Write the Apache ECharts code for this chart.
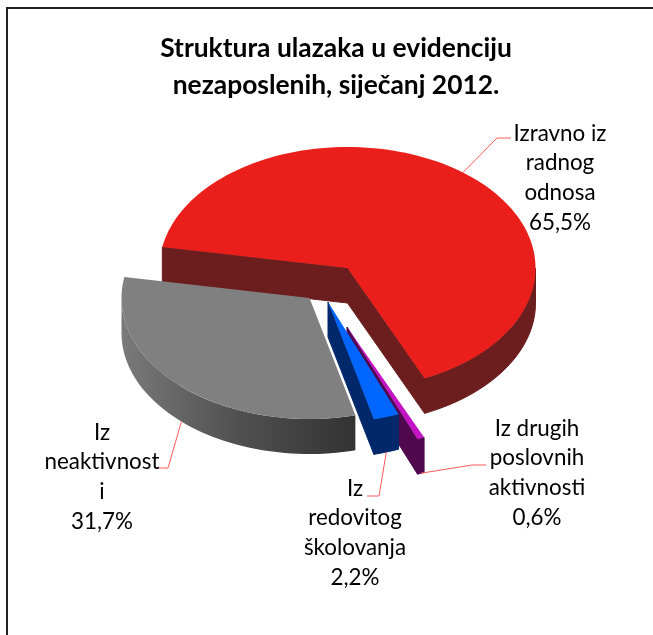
<!DOCTYPE html>
<html><head><meta charset="utf-8">
<style>html,body{margin:0;padding:0;background:#fff}#c{width:653px;height:635px}</style>
<script src="https://cdn.jsdelivr.net/npm/echarts@6/dist/echarts.min.js"></script>
</head><body><div id="c"></div>
<script>
const titleText = 'Struktura ulazaka u evidenciju\nnezaposlenih, siječanj 2012.';
const categories = ['Izravno iz\nradnog\nodnosa', 'Iz drugih\nposlovnih\naktivnosti', 'Iz\nredovitog\nškolovanja', 'Iz\nneaktivnost\ni'];
const values = [65.5, 0.6, 2.2, 31.7];

// Layout and style, apart from the data
const START = 280, RX = 188, RY = 121, DEPTH = 35;
const apex = [[347.5, 268], [347, 327], [328, 302], [309.5, 298]];
const topColor = ['#EA1F1C', '#C414C4', '#0066FF', '#808080'];
const wallColor = ['#6C1D1D', '#50094F', '#00286A', null];
const labelAt = [[560, 178], [537, 473], [355, 533], [102, 477]];
const elbows = [[[497, 138], [511, 138]], [[472, 465], [486, 465]], [[379, 496], [367, 496]], [[168, 468], [159, 468]]];
const FONT = 'Lato', LINE_COLOR = '#FF5A5A';

const total = values.reduce((a, b) => a + b, 0);
const rad = d => d * Math.PI / 180;
function onRim(c, a, dz) { return [c[0] + RX * Math.sin(rad(a)), c[1] - RY * Math.cos(rad(a)) + (dz || 0)]; }
function arc(c, a0, a1, dz) {
  const out = [], n = Math.max(2, Math.ceil(Math.abs(a1 - a0) / 2));
  for (let i = 0; i <= n; i++) out.push(onRim(c, a0 + (a1 - a0) * i / n, dz));
  return out;
}
function down(p) { return [p[0], p[1] + DEPTH]; }
function quadWall(c, a) { const e = onRim(c, a); return [c, e, down(e), down(c)]; }

function renderItem(params, api) {
  const i = params.dataIndex, val = api.value(0);
  let before = 0; for (let k = 0; k < i; k++) before += values[k];
  const a0 = START + before / total * 360, a1 = a0 + val / total * 360, mid = (a0 + a1) / 2, c = apex[i];
  const kids = [];
  const wall = wallColor[i];
  const wallStyle = { fill: wall, stroke: wall, lineWidth: 1 };
  // radial walls facing the viewer
  if (Math.sin(rad(a0)) < 0) kids.push({ type: 'polygon', shape: { points: quadWall(c, a0) }, style: wallStyle });
  if (Math.sin(rad(a1)) > 0) kids.push({ type: 'polygon', shape: { points: quadWall(c, a1) }, style: wallStyle });
  // outer wall: the part of the rim turned to the viewer
  const turns = Math.floor((a0 - 90) / 360);
  const v0 = Math.max(a0, 90 + 360 * turns), v1 = Math.min(a1, 270 + 360 * turns);
  const w0 = Math.max(a0, 90 + 360 * (turns + 1)), w1 = Math.min(a1, 270 + 360 * (turns + 1));
  const s0 = v1 > v0 ? v0 : w0, s1 = v1 > v0 ? v1 : w1;
  if (s1 > s0) {
    const top = arc(c, s0, s1), bot = arc(c, s0, s1, DEPTH).reverse();
    kids.push({ type: 'polygon', shape: { points: top.concat(bot) }, style: wall ? wallStyle : {
      fill: { type: 'linear', x: 1, y: 0, x2: 0, y2: 0, colorStops: [{ offset: 0, color: '#333333' }, { offset: 0.5, color: '#505050' }, { offset: 1, color: '#7A7A7A' }] }
    } });
  }
  // top face
  kids.push({ type: 'polygon', shape: { points: [c].concat(arc(c, a0, a1)) }, style: { fill: topColor[i] } });
  // leader + label
  const m = Math.cos(rad(mid)) < 0;
  const from = onRim(c, mid, m ? DEPTH : 0);
  kids.push({ type: 'polyline', shape: { points: [from].concat(elbows[i]) }, style: { fill: null, stroke: LINE_COLOR, lineWidth: 1 } });
  kids.push({ type: 'text', style: {
    text: categories[i] + '\n' + val.toFixed(1).replace('.', ',') + '%',
    x: labelAt[i][0], y: labelAt[i][1], align: 'center', verticalAlign: 'middle',
    fontFamily: FONT, fontSize: 22.4, lineHeight: 29.7, fill: '#000'
  } });
  return { type: 'group', children: kids };
}

const chart = echarts.init(document.getElementById('c'), null, { renderer: 'canvas' });
chart.setOption({
  animation: false,
  backgroundColor: '#fff',
  title: { text: titleText, left: 331, top: 25, textAlign: 'center',
    textStyle: { fontFamily: FONT, fontWeight: 'bold', fontSize: 26.4, lineHeight: 37, color: '#000' } },
  graphic: [
    { type: 'line', shape: { x1: 7, y1: 8, x2: 7, y2: 635 }, style: { stroke: '#222', lineWidth: 2 }, silent: true },
    { type: 'line', shape: { x1: 6, y1: 8, x2: 653, y2: 8 }, style: { stroke: '#222', lineWidth: 2 }, silent: true }
  ],
  series: [{ type: 'custom', coordinateSystem: 'none', silent: true, renderItem,
    data: values.map((v, i) => ({ name: categories[i], value: [v] })) }]
});
</script></body></html>
